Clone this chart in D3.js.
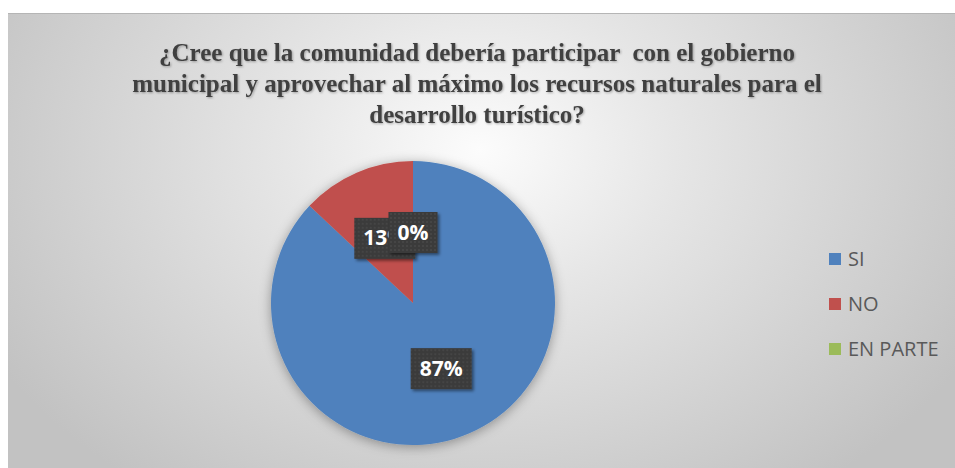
<!DOCTYPE html>
<html lang="es">
<head>
<meta charset="UTF-8">
<title>Participación de la comunidad</title>
<script src="https://d3js.org/d3.v7.min.js"></script>
<style>
  html, body { margin: 0; padding: 0; background: #fff; }
  svg { display: block; }
</style>
</head>
<body>
<svg width="955" height="468"></svg>
<script>
// data
var categories = ["SI", "NO", "EN PARTE"];
var values = [87, 13, 0];
var colors = ["#4F81BD", "#C0504D", "#9BBB59"];
var titleLines = [
  "¿Cree que la comunidad debería participar  con el gobierno",
  "municipal y aprovechar al máximo los recursos naturales para el",
  "desarrollo turístico?"
];

var svg = d3.select("svg"),
    W = +svg.attr("width"),
    H = +svg.attr("height");

var defs = svg.append("defs");

var bg = defs.append("radialGradient")
    .attr("id", "bg")
    .attr("gradientUnits", "userSpaceOnUse")
    .attr("cx", 480).attr("cy", 150).attr("r", 560)
    .attr("gradientTransform", "translate(480,150) scale(1,0.75) translate(-480,-150)");
bg.append("stop").attr("offset", "0").attr("stop-color", "#fcfcfc");
bg.append("stop").attr("offset", "0.35").attr("stop-color", "#e6e6e6");
bg.append("stop").attr("offset", "1").attr("stop-color", "#c2c2c2");

var sh = defs.append("filter").attr("id", "pieShadow")
    .attr("x", "-20%").attr("y", "-20%").attr("width", "140%").attr("height", "140%");
sh.append("feDropShadow").attr("dx", 0).attr("dy", 2).attr("stdDeviation", 6)
    .attr("flood-color", "#000").attr("flood-opacity", 0.35);

var lsh = defs.append("filter").attr("id", "lblShadow")
    .attr("x", "-20%").attr("y", "-20%").attr("width", "150%").attr("height", "150%");
lsh.append("feDropShadow").attr("dx", 2).attr("dy", 2).attr("stdDeviation", 1.5)
    .attr("flood-color", "#000").attr("flood-opacity", 0.45);

var tsh = defs.append("filter").attr("id", "titleShadow");
tsh.append("feDropShadow").attr("dx", 1).attr("dy", 1).attr("stdDeviation", 1)
    .attr("flood-color", "#000").attr("flood-opacity", 0.3);

// dotted texture for the label boxes
var pat = defs.append("pattern").attr("id", "dots")
    .attr("width", 4).attr("height", 4).attr("patternUnits", "userSpaceOnUse");
pat.append("rect").attr("width", 4).attr("height", 4).attr("fill", "#3a3a3a");
pat.append("circle").attr("cx", 2).attr("cy", 2).attr("r", 0.7).attr("fill", "#555");

// chart area
svg.append("rect")
    .attr("x", 8).attr("y", 13)
    .attr("width", W - 8).attr("height", H - 13)
    .attr("fill", "url(#bg)");
svg.append("line")
    .attr("x1", 8).attr("x2", W).attr("y1", 13.5).attr("y2", 13.5)
    .attr("stroke", "#b5b5b5");

// title
svg.append("text")
    .attr("x", 477)
    .attr("text-anchor", "middle")
    .attr("font-family", "'Liberation Serif', 'Times New Roman', serif")
    .attr("font-weight", "bold")
    .attr("font-size", "25px")
    .attr("fill", "#404040")
    .attr("filter", "url(#titleShadow)")
    .selectAll("tspan")
    .data(titleLines)
    .enter().append("tspan")
    .attr("x", 477)
    .attr("y", function(d, i) { return 61 + i * 31; })
    .attr("xml:space", "preserve")
    .style("white-space", "pre")
    .text(function(d) { return d; });

// pie
var cx = 413, cy = 303, r = 142;
var pie = d3.pie().sort(null).value(function(d) { return d; });
var arcs = pie(values);
var arc = d3.arc().innerRadius(0).outerRadius(r);
var labelArc = d3.arc().innerRadius(r * 0.5).outerRadius(r * 0.5);

var g = svg.append("g").attr("transform", "translate(" + cx + "," + cy + ")");

g.append("g").attr("filter", "url(#pieShadow)")
  .selectAll("path")
  .data(arcs)
  .enter().append("path")
    .attr("d", arc)
    .attr("fill", function(d, i) { return colors[i]; });

var lbl = g.selectAll(".lbl")
    .data(arcs)
    .enter().append("g")
    .attr("class", "lbl")
    .attr("transform", function(d) {
      var c = labelArc.centroid(d);
      return "translate(" + c[0] + "," + c[1] + ")";
    });

lbl.append("rect")
    .attr("y", -20)
    .attr("height", 41)
    .attr("fill", "url(#dots)")
    .attr("filter", "url(#lblShadow)");

lbl.append("text")
    .attr("text-anchor", "middle")
    .attr("dy", "0.36em")
    .attr("font-family", "'Open Sans', sans-serif")
    .attr("font-weight", "bold")
    .attr("font-size", "21px")
    .attr("fill", "#fff")
    .text(function(d) { return d.data + "%"; });

// size boxes to their text
lbl.each(function() {
  var t = d3.select(this).select("text").node().getBBox();
  d3.select(this).select("rect")
    .attr("x", -t.width / 2 - 9)
    .attr("width", t.width + 18);
});

// legend
var legend = svg.append("g").attr("transform", "translate(829,0)");
var item = legend.selectAll("g")
    .data(categories)
    .enter().append("g")
    .attr("transform", function(d, i) { return "translate(0," + (259 + i * 45) + ")"; });

item.append("rect")
    .attr("x", 0).attr("y", -6)
    .attr("width", 12).attr("height", 12)
    .attr("fill", function(d, i) { return colors[i]; });

item.append("text")
    .attr("x", 19)
    .attr("dy", "0.35em")
    .attr("font-family", "'Open Sans', sans-serif")
    .attr("font-size", "20px")
    .attr("fill", "#595959")
    .text(function(d) { return d; });
</script>
</body>
</html>
